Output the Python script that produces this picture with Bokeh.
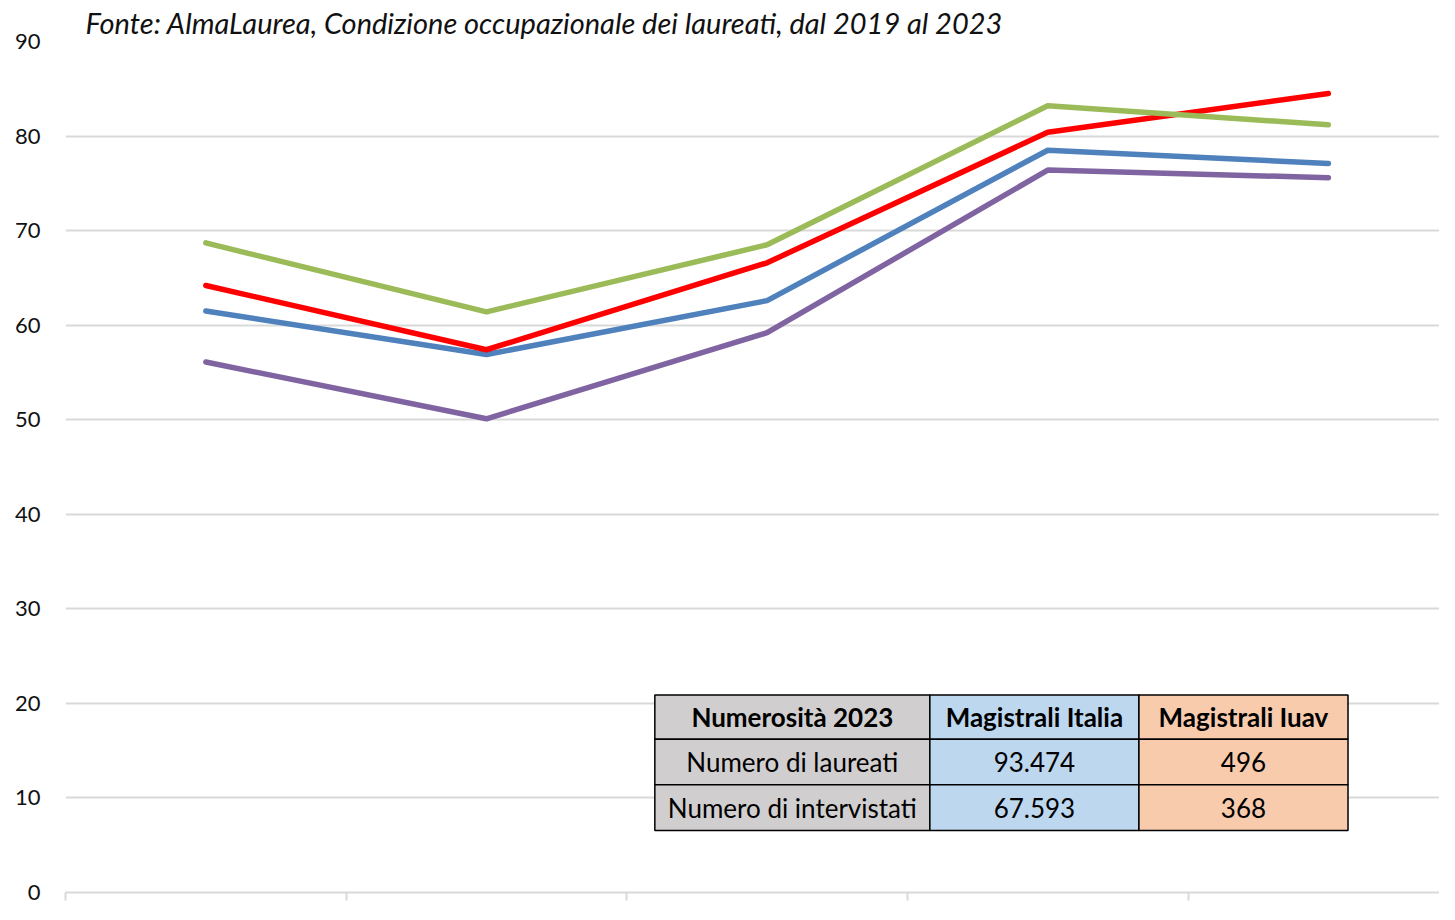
from bokeh.plotting import figure
from bokeh.models import Range1d, FixedTicker, Title
from bokeh.core.properties import value
from bokeh.embed import file_html
from bokeh.resources import INLINE

# ---------------- data ----------------
anni = ["2019", "2020", "2021", "2022", "2023"]
serie_blu = [61.5, 56.9, 62.6, 78.5, 77.1]
serie_viola = [56.1, 50.1, 59.2, 76.4, 75.6]
serie_rossa = [64.2, 57.4, 66.6, 80.4, 84.5]
serie_verde = [68.7, 61.4, 68.5, 83.2, 81.2]

y_ticks = [0, 10, 20, 30, 40, 50, 60, 70, 80, 90]

tab_header = ["Numerosità 2023", "Magistrali Italia", "Magistrali Iuav"]
tab_righe = ["Numero di laureati", "Numero di intervistati"]
tab_italia = ["93.474", "67.593"]
tab_iuav = ["496", "368"]

titolo = "Fonte: AlmaLaurea, Condizione occupazionale dei laureati, dal 2019 al 2023"

# ---------------- styles / layout ----------------
FONT = "Lato"
TXT = "#111111"
GRID = "#D9D9D9"
colori = {"blu": "#4F81BD", "viola": "#8064A2", "rossa": "#FF0000", "verde": "#9BBB59"}

x_pos = [i + 0.5 for i in range(len(anni))]

p = figure(width=1439, height=904,
           x_range=Range1d(0, 4.896), y_range=Range1d(0, 90),
           output_backend="svg", toolbar_location=None,
           min_border_left=65, min_border_right=0,
           min_border_top=0, min_border_bottom=12)
p.outline_line_color = None
p.background_fill_color = "white"
p.border_fill_color = "white"

p.title = Title(text=titolo, text_font=FONT, text_font_style="italic",
                text_font_size="29px", text_color=TXT, align="left",
                offset=20, standoff=4)

# y axis
p.yaxis.ticker = FixedTicker(ticks=y_ticks)
p.yaxis.axis_line_color = None
p.yaxis.major_tick_line_color = None
p.yaxis.minor_tick_line_color = None
p.yaxis.major_label_standoff = 19
p.yaxis.major_label_text_font = FONT
p.yaxis.major_label_text_font_size = "22px"
p.yaxis.major_label_text_color = TXT
p.ygrid.ticker = FixedTicker(ticks=y_ticks)
p.ygrid.grid_line_color = GRID
p.ygrid.grid_line_width = 2

# x axis: boundaries between categories
p.xgrid.visible = False
p.xaxis.ticker = FixedTicker(ticks=list(range(len(anni) + 1)))
p.xaxis.major_label_overrides = {i: "" for i in range(len(anni) + 1)}
p.xaxis.major_label_text_font_size = "0px"
p.xaxis.major_label_standoff = 0
p.xaxis.axis_line_color = GRID
p.xaxis.axis_line_width = 2
p.xaxis.major_tick_line_color = GRID
p.xaxis.major_tick_line_width = 2
p.xaxis.major_tick_in = 0
p.xaxis.major_tick_out = 8
p.xaxis.minor_tick_line_color = None

# lines
for nome, vals in [("blu", serie_blu), ("viola", serie_viola),
                   ("rossa", serie_rossa), ("verde", serie_verde)]:
    p.line(x_pos, vals, line_color=colori[nome], line_width=5.5,
           line_cap="round", line_join="round")

# table (layout constants in axis units)
col_edges = [2.10, 3.08, 3.825, 4.57]
row_edges = [20.9, 16.2, 11.4, 6.55]
col_fill = ["#D0CECE", "#BDD7EE", "#F8CBAD"]

left, right, top, bottom, fill = [], [], [], [], []
for r in range(3):
    for c in range(3):
        left.append(col_edges[c]); right.append(col_edges[c + 1])
        top.append(row_edges[r]); bottom.append(row_edges[r + 1])
        fill.append(col_fill[c])
p.quad(left=left, right=right, top=top, bottom=bottom, fill_color=fill,
       line_color="#000000", line_width=1.5)

cx = [(col_edges[c] + col_edges[c + 1]) / 2 for c in range(3)]
cy = [(row_edges[r] + row_edges[r + 1]) / 2 for r in range(3)]

p.text(x=cx, y=[cy[0]] * 3, text=tab_header, text_font=value(FONT),
       text_font_style="bold", text_font_size="26px", text_color="#000000",
       text_align="center", text_baseline="middle")

body_x, body_y, body_t = [], [], []
for r in range(2):
    for c, col in enumerate([tab_righe, tab_italia, tab_iuav]):
        body_x.append(cx[c]); body_y.append(cy[r + 1]); body_t.append(col[r])
p.text(x=body_x, y=body_y, text=body_t, text_font=value(FONT),
       text_font_size="26px", text_color="#000000",
       text_align="center", text_baseline="middle")

open("out.html", "w").write(file_html(p, INLINE))
